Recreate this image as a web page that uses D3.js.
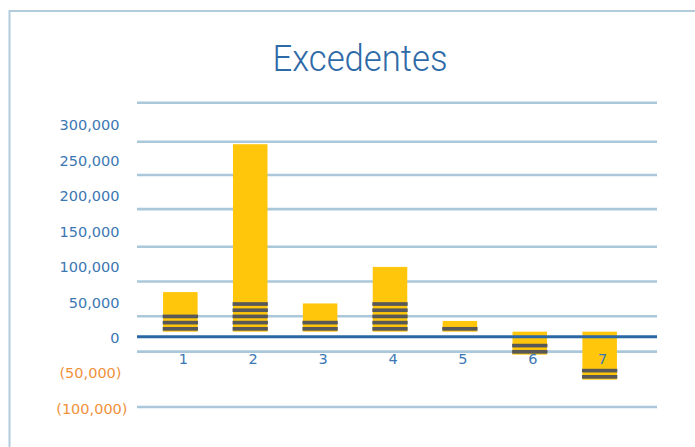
<!DOCTYPE html>
<html>
<head>
<meta charset="utf-8">
<script src="https://cdn.jsdelivr.net/npm/d3@7"></script>
<style>
  html, body { margin: 0; padding: 0; background: #ffffff; }
  svg { display: block; }
</style>
</head>
<body>
<svg id="chart" width="695" height="447"></svg>
<script>
// ---- data ----
const title = "Excedentes";
const categories = ["1", "2", "3", "4", "5", "6", "7"];
const values = [63000, 271500, 47000, 98500, 22300, -25200, -60500];
const barBase = 7200;
const stripeCounts = [3, 5, 2, 5, 1, 2, 2];
const tickValues = [-100000, -50000, 0, 50000, 100000, 150000, 200000, 250000, 300000];
const gridValues = [330000, 275000, 228000, 180000, 127000, 78000, 29000, -21000, -99000];

// ---- styles ----
const blue = "#2e6aa7";
const tickBlue = "#3b77b2";
const orange = "#f0913a";
const gridColor = "#abc8da";
const barColor = "#ffc60b";
const stripeColor = "#585858";
const fontFam = "'DejaVu Sans', Verdana, sans-serif";

const svg = d3.select("#chart");

// frame (light blue border, open to right/bottom)
svg.append("rect")
  .attr("x", 9.5).attr("y", 11).attr("width", 720).attr("height", 460)
  .attr("fill", "none").attr("stroke", "#b3ccdd").attr("stroke-width", 2);

// scales
const y = d3.scaleLinear().domain([-100000, 300000]).range([407.7, 124]);
const x = d3.scaleBand().domain(categories).range([145.4, 634.6])
  .paddingInner(0.506).paddingOuter(0.253);
const gridX0 = 137, gridX1 = 657;

// title
svg.append("text")
  .attr("x", 360).attr("y", 71)
  .attr("text-anchor", "middle")
  .attr("font-family", "Roboto, 'DejaVu Sans', sans-serif")
  .attr("font-weight", 300)
  .attr("font-size", 37)
  .attr("textLength", 175)
  .attr("lengthAdjust", "spacingAndGlyphs")
  .attr("fill", blue)
  .text(title);

// gridlines
svg.append("g").selectAll("line").data(gridValues).join("line")
  .attr("x1", gridX0).attr("x2", gridX1)
  .attr("y1", d => y(d)).attr("y2", d => y(d))
  .attr("stroke", gridColor).attr("stroke-width", 2.6);

// y tick labels
const fmt = d3.format(",");
svg.append("g").selectAll("text").data(tickValues).join("text")
  .attr("x", d => d < 0 ? (d < -50000 ? 127.5 : 121.5) : 119.5)
  .attr("y", d => y(d) + 1)
  .attr("dy", "0.36em")
  .attr("text-anchor", "end")
  .attr("font-family", fontFam)
  .attr("font-size", 14.5)
  .attr("fill", d => d < 0 ? orange : tickBlue)
  .text(d => d < 0 ? "(" + fmt(-d) + ")" : fmt(d));

// bars
const data = categories.map((c, i) => ({ c, v: values[i], n: stripeCounts[i] }));
const bars = svg.append("g");
bars.selectAll("rect").data(data).join("rect")
  .attr("x", d => x(d.c))
  .attr("width", x.bandwidth())
  .attr("y", d => Math.min(y(d.v), y(barBase)))
  .attr("height", d => Math.abs(y(d.v) - y(barBase)))
  .attr("fill", barColor);

// stripes (coin pictogram) at the bottom edge of each bar
const stripeStep = 6.2, stripeH = 3.7;
const stripes = [];
data.forEach(d => {
  const bottom = Math.max(y(d.v), y(barBase));
  for (let k = 0; k < d.n; k++) {
    stripes.push({ c: d.c, top: bottom - 4.7 - k * stripeStep });
  }
});
bars.append("g").selectAll("rect").data(stripes).join("rect")
  .attr("x", d => x(d.c) - 0.4)
  .attr("width", x.bandwidth() + 0.8)
  .attr("y", d => d.top)
  .attr("height", stripeH)
  .attr("fill", stripeColor);

// zero line
svg.append("line")
  .attr("x1", gridX0).attr("x2", gridX1)
  .attr("y1", y(0)).attr("y2", y(0))
  .attr("stroke", "#2b67a3").attr("stroke-width", 3);

// category labels
svg.append("g").selectAll("text").data(categories).join("text")
  .attr("x", d => x(d) + x.bandwidth() / 2 + 3)
  .attr("y", 358.5)
  .attr("dy", "0.36em")
  .attr("text-anchor", "middle")
  .attr("font-family", fontFam)
  .attr("font-size", 14.5)
  .attr("fill", tickBlue)
  .text(d => d);
</script>
</body>
</html>
